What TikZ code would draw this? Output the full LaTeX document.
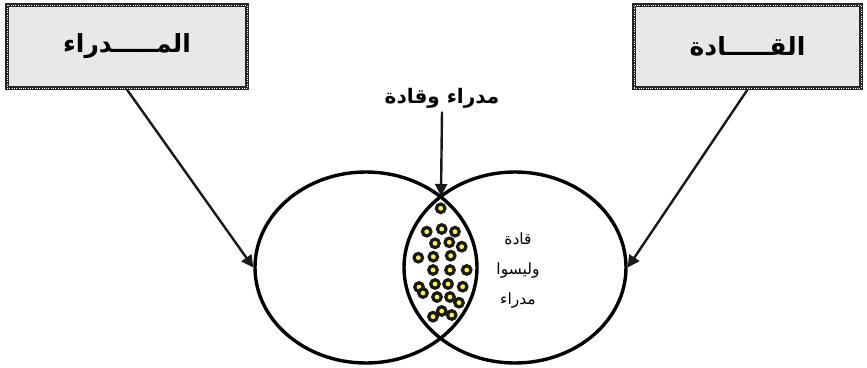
\documentclass[tikz,border=0pt]{standalone}
\usepackage{fontspec}
\newfontfamily\arabicfont[Script=Arabic]{DejaVu Sans}
\TeXXeTstate=1
\usetikzlibrary{arrows.meta,shapes.geometric}

\tikzset{
  patline/.style={draw=black!85, line width=3.2pt,
    postaction={draw=white, line width=0.6pt, dash pattern=on 0.5pt off 1.8pt}},
  namebox/.style={patline, fill=gray!18, inner sep=0pt,
    font=\arabicfont\bfseries\fontsize{25}{29}\selectfont},
  setbox/.style={ellipse, draw=black, line width=3.4pt, inner sep=0pt,
    minimum width=222pt, minimum height=191pt},
  pointer/.style={line width=2.4pt, black!90,
    -{Triangle[length=12pt,width=12pt]}},
  seed/.style={circle, draw=black!90, line width=3.2pt, fill=yellow!80,
    minimum size=8.5pt, inner sep=0pt}
}

\begin{document}
\begin{tikzpicture}[x=1pt, y=-1pt]
  \useasboundingbox (0,0) rectangle (867,367);

  % Headings
  \node[namebox, minimum width=240pt, minimum height=83pt]
    (mgrbox) at (127,46.5) {\beginR المـــــدراء\endR};
  \node[namebox, minimum width=227pt, minimum height=83pt]
    (ldrbox) at (747.5,46.5) {\beginR القـــــادة\endR};

  % The two sets
  \node[setbox] (mgrset) at (366,267.5) {};
  \node[setbox] (ldrset) at (515,267.5) {};

  % Overlap label
  \node[font=\arabicfont\bfseries\fontsize{20}{24}\selectfont]
    (both) at (442,98) {\beginR مدراء وقادة\endR};
  \coordinate (cross) at (441,196);

  % Leaders who are not managers
  \node[font=\arabicfont\fontsize{15.5}{19}\selectfont, align=center]
    (onlyldr) at (518,270) {\beginR قادة\endR\\[11pt]\beginR وليسوا\endR\\[11pt]\beginR مدراء\endR};

  % Dots in the overlap
  \foreach \p [count=\i] in {(440.7,208.3),
      (426.7,231.7),(441.7,229),(455,231.7),
      (435,243.3),(449.3,242.3),(461.7,246.7),
      (418.3,257.7),(433.3,256.7),(450.7,255.7),
      (433,270),(450,270),(466.7,270),
      (419,287),(435,284),(448,284),(462.7,286.7),
      (423,293),(437,297),(450,297),(459,302.7),
      (433,316.7),(441.7,311),(451.7,315)}
    \node[seed] (d\i) at \p {};

  % Pointers
  \draw[pointer] (mgrbox.south) -- (mgrset.west);
  \draw[pointer] (ldrbox.south) -- (ldrset.east);
  \draw[pointer] (both.south) -- (cross);

\end{tikzpicture}
\end{document}
